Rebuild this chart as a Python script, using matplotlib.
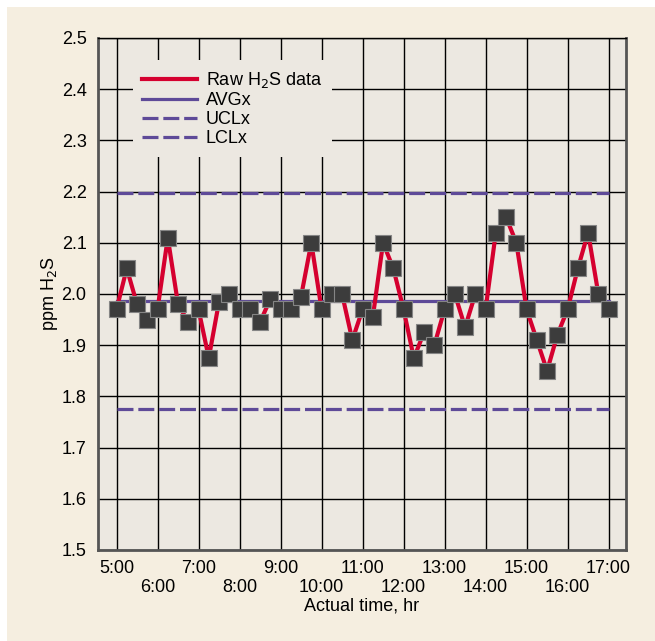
import matplotlib.pyplot as plt
from matplotlib.patches import Rectangle

plt.rcParams['font.family'] = ['Liberation Sans', 'DejaVu Sans']
plt.rcParams['lines.scale_dashes'] = False

# sampling times (every 15 min) and raw H2S readings, ppm
times = ['5:00', '5:15', '5:30', '5:45', '6:00', '6:15', '6:30', '6:45',
         '7:00', '7:15', '7:30', '7:45', '8:00', '8:15', '8:30', '8:45',
         '9:00', '9:15', '9:30', '9:45', '10:00', '10:15', '10:30', '10:45',
         '11:00', '11:15', '11:30', '11:45', '12:00', '12:15', '12:30', '12:45',
         '13:00', '13:15', '13:30', '13:45', '14:00', '14:15', '14:30', '14:45',
         '15:00', '15:15', '15:30', '15:45', '16:00', '16:15', '16:30', '16:45',
         '17:00']
h2s = [1.97, 2.05, 1.98, 1.95, 1.97, 2.11, 1.98, 1.945, 1.97, 1.875,
       1.985, 2.00, 1.97, 1.97, 1.945, 1.99, 1.97, 1.97, 1.995, 2.10,
       1.97, 2.00, 2.00, 1.91, 1.97, 1.955, 2.10, 2.05, 1.97, 1.875,
       1.925, 1.90, 1.97, 2.00, 1.935, 2.00, 1.97, 2.12, 2.15, 2.10,
       1.97, 1.91, 1.85, 1.92, 1.97, 2.05, 2.12, 2.00, 1.97]

avg_x = 1.986
ucl_x = 2.197
lcl_x = 1.775

hour_ticks = [5, 6, 7, 8, 9, 10, 11, 12, 13, 14, 15, 16, 17]
y_ticks = [1.5, 1.6, 1.7, 1.8, 1.9, 2.0, 2.1, 2.2, 2.3, 2.4, 2.5]


def to_hours(t):
    h, m = t.split(':')
    return int(h) + int(m) / 60


hours = [to_hours(t) for t in times]

W, H = 655, 641
fig = plt.figure(figsize=(W / 100, H / 100), dpi=100, facecolor='white')
fig.patches.append(Rectangle((7 / W, 0), 1 - 7 / W, 1 - 7 / H, transform=fig.transFigure,
                             facecolor='#F5EEE0', edgecolor='none', zorder=-10))

ax = fig.add_axes([97.7 / W, 91 / H, 528 / W, 512 / H])
ax.set_facecolor('#ECE8E1')

red = '#D5002F'
purple = '#5E4A98'

ax.plot(hours, h2s, color=red, lw=3, label='Raw H$_2$S data', zorder=3)
ax.plot(hours, h2s, ls='none', marker='s', ms=11, mfc='#3C3C3C', mec='#858585',
        mew=0.8, zorder=4)
t0, t1 = hours[0], hours[-1]
ax.plot([t0, t1], [avg_x, avg_x], color=purple, lw=2.3, label='AVGx', zorder=2)
ax.plot([t0, t1], [ucl_x, ucl_x], color=purple, lw=2.3, dashes=(11.5, 3.5),
        label='UCLx', zorder=2)
ax.plot([t0, t1], [lcl_x, lcl_x], color=purple, lw=2.3, dashes=(11.5, 3.5),
        label='LCLx', zorder=2)

ax.set_xlim(4.541, 17.417)
ax.set_ylim(1.5, 2.5)
ax.set_xticks(hour_ticks)
ax.set_xticklabels([f'{h}:00' if h % 2 else f'\n{h}:00' for h in hour_ticks])
ax.set_yticks(y_ticks)
ax.set_yticklabels([f'{v:.1f}' for v in y_ticks])
ax.tick_params(length=0, labelsize=13, colors='black')
ax.tick_params(axis='x', pad=7)
ax.tick_params(axis='y', pad=8)

ax.set_axisbelow(True)
ax.grid(True, color='black', lw=1)
for side in ['left', 'right', 'bottom']:
    ax.spines[side].set_color('#555555')
    ax.spines[side].set_linewidth(2)
ax.spines['top'].set_color('black')
ax.spines['top'].set_linewidth(1)

ax.set_xlabel('Actual time, hr', fontsize=13, labelpad=1)
ax.set_ylabel('ppm H$_2$S', fontsize=13, labelpad=1)

leg = ax.legend(loc='upper left', bbox_to_anchor=(0.066, 0.957), borderaxespad=0,
                frameon=True, fancybox=False, facecolor='#ECE8E1', edgecolor='none',
                framealpha=1, fontsize=13, handlelength=3.0, handletextpad=0.5,
                labelspacing=0.12, borderpad=0.55)

fig.savefig('out.png', dpi=100)
